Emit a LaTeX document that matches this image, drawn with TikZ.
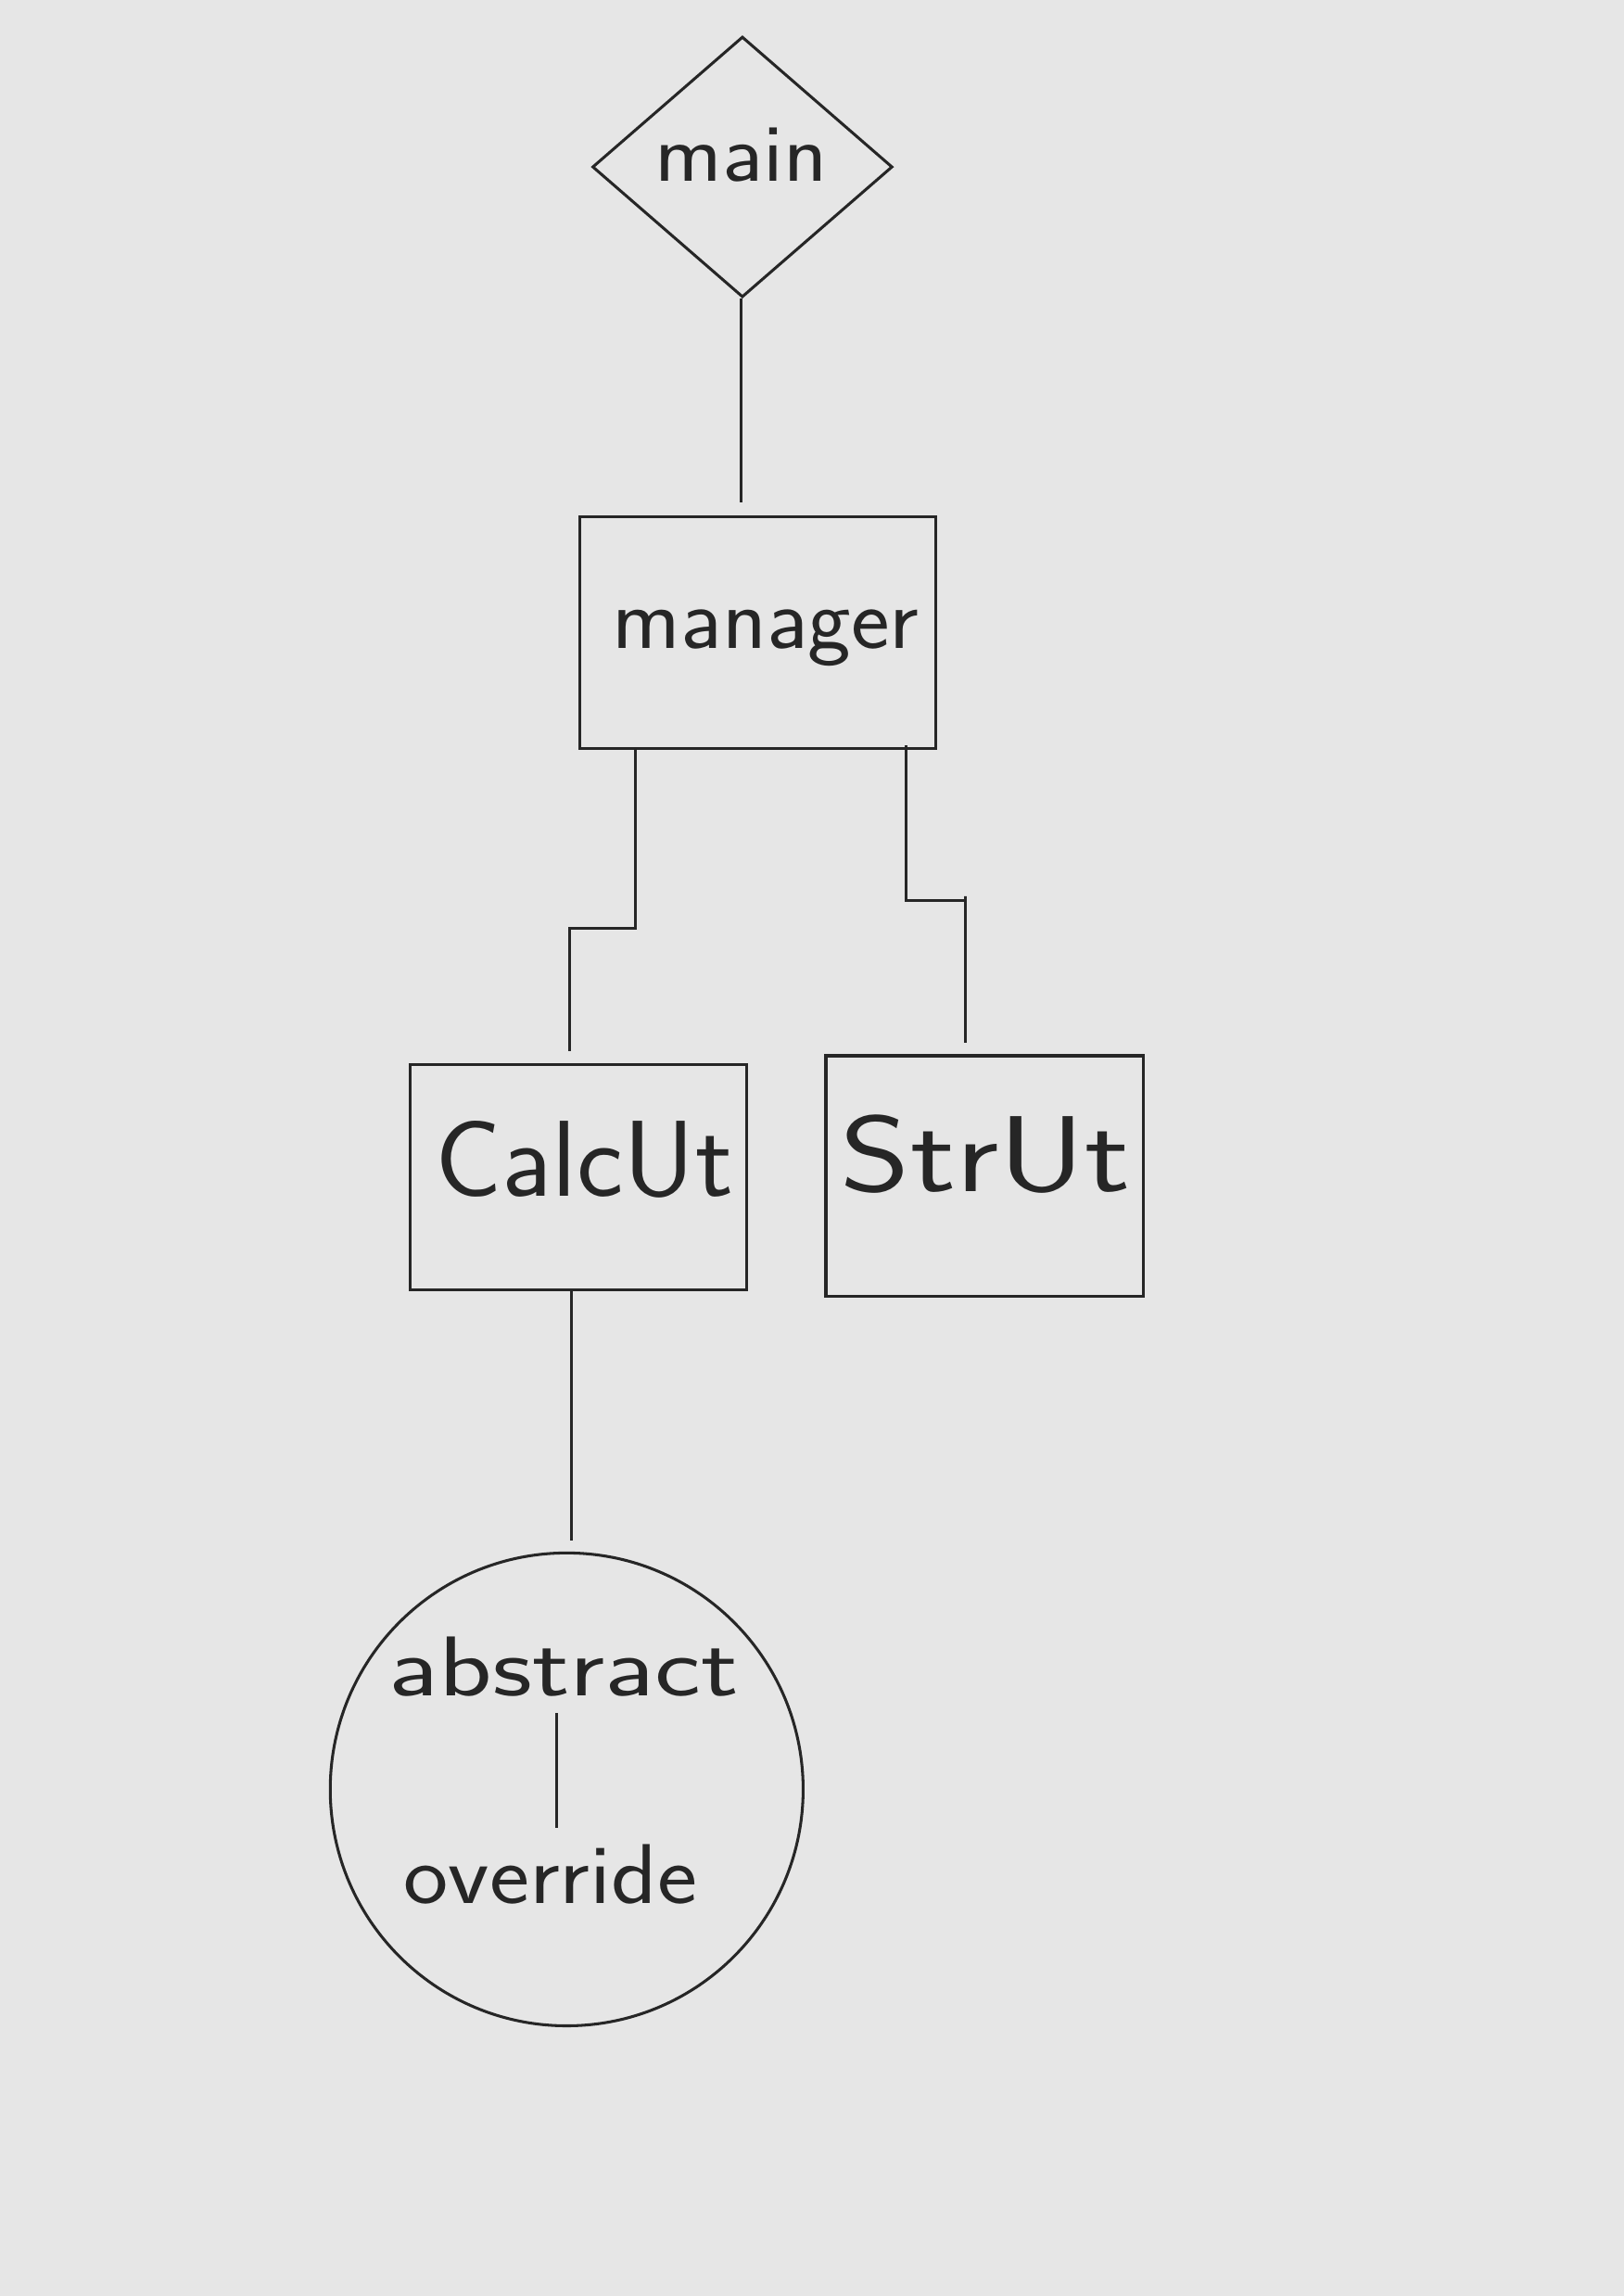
\documentclass[tikz,border=0pt]{standalone}
\usetikzlibrary{shapes.geometric}
\definecolor{paper}{RGB}{230,230,230}
\definecolor{ink}{RGB}{38,38,38}

\begin{document}
\begin{tikzpicture}
[x=0.02cm,y=-0.02cm,
  lineDecorate/.style={-,line width=1.1pt,draw=ink},%
  nodeDecorate/.style={shape=rectangle,draw=ink,line width=1.1pt,inner sep=0pt},%
  wordDecorate/.style={text=ink,inner sep=0pt,transform shape}]
\fill[paper] (0,0) rectangle (1109,1568);
\useasboundingbox (0,0) rectangle (1109,1568);
%% nodes or vertices
\node (main) at (507,114) [nodeDecorate,shape=diamond,minimum width=4.1cm,minimum height=3.56cm] {};
\node (manager) at (517.5,432) [nodeDecorate,minimum width=4.86cm,minimum height=3.16cm] {};
\node (calcUt) at (395,804) [nodeDecorate,minimum width=4.6cm,minimum height=3.08cm] {};
\node (strUt) at (672.5,803) [nodeDecorate,minimum width=4.34cm,minimum height=3.28cm] {};
\node (abstractClass) at (387,1222) [nodeDecorate,shape=circle,minimum size=6.46cm] {};
%% texts
\foreach \nodename/\x/\y/\sz/\xs/\txt in {mainText/506/106/32/1.1/main,
  managerText/523/436/34/1.05/manager,
  calcUtText/399/792/42/1.03/CalcUt, strUtText/673/788/42/1.24/StrUt,
  abstractText/385/1138/33/1.3/abstract, overrideText/376/1280/33/1.12/override}
{
  \node (\nodename) at (\x,\y) [wordDecorate,xscale=\xs,font=\sffamily\fontsize{\sz}{\sz}\selectfont] {\txt};
}
%% connectors
\coordinate (managerIn) at (506,343);
\coordinate (calcUtIn) at (389,718);
\coordinate (strUtIn) at (659,712);
\coordinate (calcUtOut) at (390,1052);
\coordinate (overrideIn) at (380,1248);
\draw[lineDecorate] (main.south -| managerIn) -- (managerIn);
\draw[lineDecorate] (manager.south west) ++(39,0) |- (calcUtIn |- 0,634) -- (calcUtIn);
\draw[lineDecorate] (manager.south east) ++(-21,-3) |- (strUtIn |- 0,615) -- (strUtIn |- 0,612) -- (strUtIn);
\draw[lineDecorate] (calcUt.south -| calcUtOut) -- (calcUtOut);
\draw[lineDecorate] (overrideIn |- 0,1170) -- (overrideIn);
\end{tikzpicture}
\end{document}
